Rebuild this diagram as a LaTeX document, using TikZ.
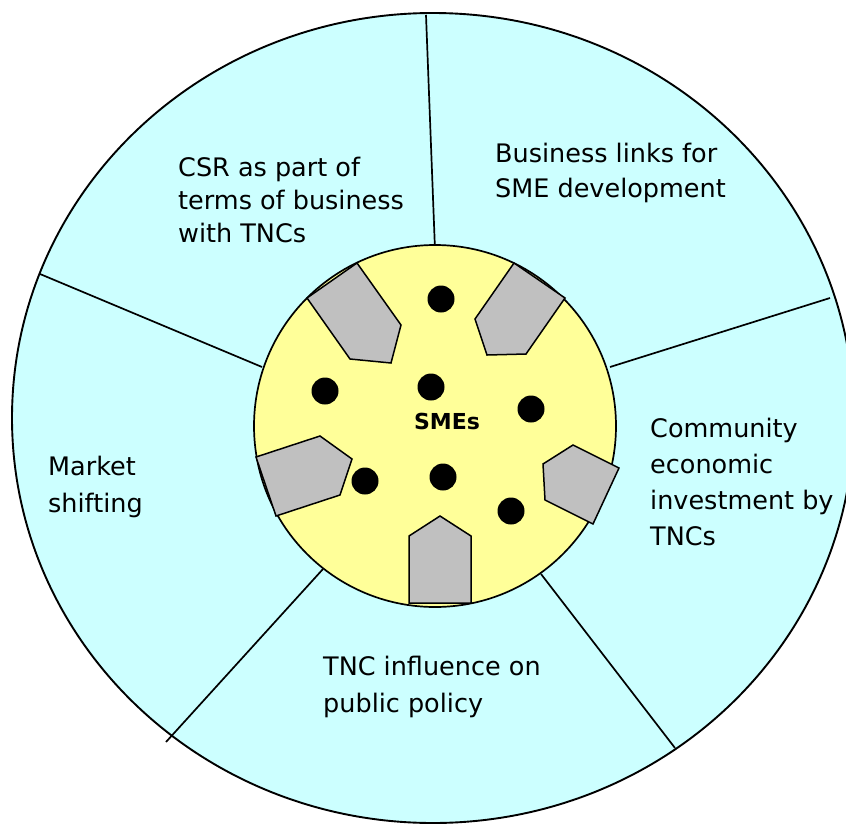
\documentclass[tikz,border=0pt]{standalone}
\usepackage{fontspec}
\setmainfont{DejaVu Sans}
\usepackage{tikz}
\usetikzlibrary{positioning}

\definecolor{zonecyan}{HTML}{CCFFFF}
\definecolor{smeyellow}{HTML}{FFFF99}
\definecolor{tncgray}{HTML}{C0C0C0}

\begin{document}
\begin{tikzpicture}[x=1pt,y=-1pt]
    \tikzstyle{zone}=[draw=black,line width=1.9pt,fill=zonecyan]
    \tikzstyle{divider}=[draw=black,line width=1.7pt]
    \tikzstyle{core}=[draw=black,line width=1.7pt,fill=smeyellow]
    \tikzstyle{tnc}=[draw=black,line width=1.5pt,fill=tncgray,line join=miter]
    \tikzstyle{sme}=[fill=black]
    \tikzstyle{txt}=[font=\fontsize{25.5}{34}\selectfont,align=left,
    inner sep=0pt,anchor=base west]

    \useasboundingbox (0,0) rectangle (846,825);

    % outer ring and its five parts
    \path[zone] (433,418) ellipse [x radius=421,y radius=405];
    \draw[divider] (426,15) -- (435,250);
    \draw[divider] (830,298) -- (610,367);
    \draw[divider] (675,748) -- (541,574);
    \draw[divider] (166,742) -- (323,569);
    \draw[divider] (40,274) -- (262,367);

    % the SME circle
    \path[core] (435,426) circle (181);

    % TNCs
    \path[tnc] (357,263) -- (307,298) -- (350,359) -- (391,363) -- (401,325) -- cycle;
    \path[tnc] (514,263) -- (565,298) -- (526,354) -- (487,355) -- (475,319) -- cycle;
    \path[tnc] (256,457) -- (320,436) -- (352,459) -- (340,495) -- (276,516) -- cycle;
    \path[tnc] (573,445) -- (619,468) -- (593,524) -- (545,500) -- (543,464) -- cycle;
    \path[tnc] (440,516) -- (471,536) -- (471,603) -- (409,603) -- (409,536) -- cycle;

    % SMEs
    \foreach \p in {(441,299),(325,391),(431,387),(531,409),(365,481),(443,477),(511,511)}
        \path[sme] \p circle (13.5);

    \node[font=\bfseries\fontsize{22}{26}\selectfont] (smes) at (447,421) {SMEs};

    % labels, placed by the baseline of their last line
    \node[txt,font=\fontsize{25.5}{33}\selectfont] (csr) at (178,242)
        {CSR as part of\\terms of business\\with TNCs};
    \node[txt,font=\fontsize{25.5}{35}\selectfont] (links) at (495,197)
        {Business links for\\SME development};
    \node[txt,font=\fontsize{25.5}{35.7}\selectfont] (community) at (650,545)
        {Community\\economic\\investment by\\TNCs};
    \node[txt,font=\fontsize{25.5}{37}\selectfont] (market) at (48,512)
        {Market\\shifting};
    \node[txt,font=\fontsize{25.5}{37}\selectfont] (policy) at (323,712)
        {TNC influence on\\public policy};
\end{tikzpicture}
\end{document}
